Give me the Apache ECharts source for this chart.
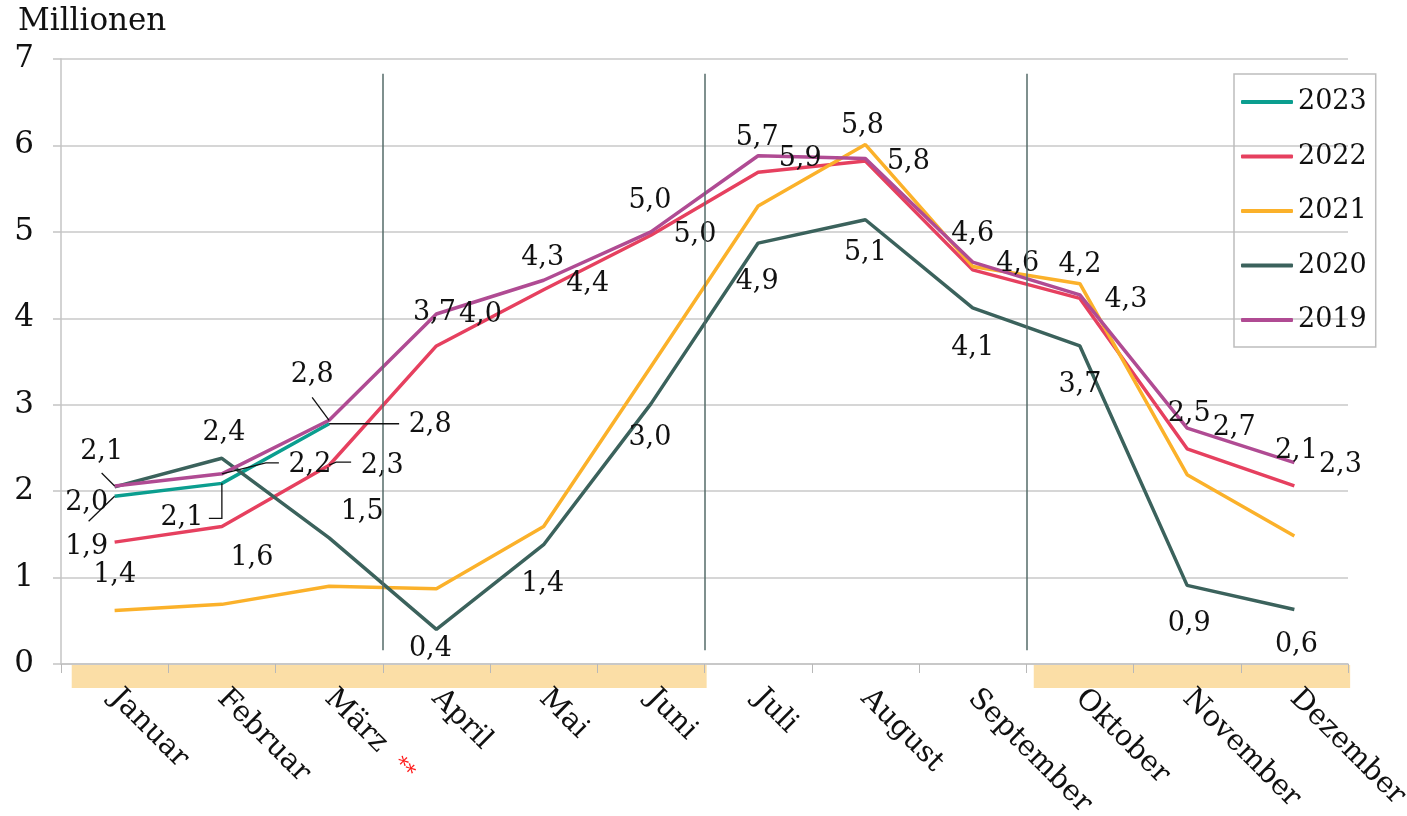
<!DOCTYPE html>
<html>
<head>
<meta charset="utf-8">
<script src="https://cdn.jsdelivr.net/npm/echarts@6.0.0/dist/echarts.min.js"></script>
<style>
  html, body { margin: 0; padding: 0; background: #fff; }
  #chart { width: 1407px; height: 816px; }
</style>
</head>
<body>
<div id="chart"></div>
<script>
// Monate
const months = ["Januar", "Februar", "März", "April", "Mai", "Juni", "Juli",
  "August", "September", "Oktober", "November", "Dezember"];

// Werte in Millionen
const v2023 = [1.94, 2.09, 2.78, null, null, null, null, null, null, null, null, null];
const v2022 = [1.41, 1.59, 2.30, 3.68, 4.33, 4.96, 5.69, 5.82, 4.56, 4.23, 2.49, 2.06];
const v2021 = [0.62, 0.69, 0.90, 0.87, 1.59, 3.44, 5.30, 6.01, 4.60, 4.40, 2.19, 1.48];
const v2020 = [2.05, 2.38, 1.46, 0.40, 1.38, 3.01, 4.87, 5.14, 4.12, 3.68, 0.91, 0.63];
const v2019 = [2.06, 2.20, 2.82, 4.05, 4.44, 5.00, 5.88, 5.85, 4.65, 4.27, 2.73, 2.33];

// Datenbeschriftungen (so wie im Original)
const lab2023 = ["2,0", "2,1", "2,8", "", "", "", "", "", "", "", "", ""];
const lab2022 = ["1,4", "1,6", "2,3", "3,7", "4,3", "5,0", "5,7", "", "4,6", "4,2", "2,5", "2,1"];
const lab2021 = ["", "", "", "", "", "", "", "5,8", "", "", "", ""];
const lab2020 = ["1,9", "2,4", "1,5", "0,4", "1,4", "3,0", "4,9", "5,1", "4,1", "3,7", "0,9", "0,6"];
const lab2019 = ["2,1", "2,2", "2,8", "4,0", "4,4", "5,0", "5,9", "5,8", "4,6", "4,3", "2,7", "2,3"];

// Versatz der Beschriftungen in px
const off2023 = [[-28, 7], [-40, 35], [101, 1]];
const off2022 = [[0, 33], [30, 31], [53, 1], [-2, -33], [-1, -32], [-1, -34], [-1, -34], null, [45, -6], [0, -33], [2, -35], [2, -35]];
const off2021 = [null, null, null, null, null, null, null, [-3, -19], null, null, null, null];
const off2020 = [[-28, 60], [2, -25], [33, -26], [-6, 20], [-1, 39], [-1, 34], [-1, 39], [0, 33], [0, 40], [0, 39], [2, 39], [2, 35]];
const off2019 = [[-13, -34], [88, -9], [-17, -45], [44, 1], [44, 4], [44, 3], [42, 3], [43, 4], [0, -28], [46, 5], [47, 0], [46, 2]];

// Hinweislinien: Serie, Monat, Punkte relativ zum Datenpunkt
const leaders = [
  { s: "2019", m: 0, pts: [[0, 0], [-13, -13]] },
  { s: "2023", m: 0, pts: [[0, 0], [-26, 25]] },
  { s: "2019", m: 1, pts: [[0, 0], [44, -11], [57, -11]] },
  { s: "2023", m: 1, pts: [[0, 0], [0, 35], [-13, 35]] },
  { s: "2019", m: 2, pts: [[0, 0], [-17, -23]] },
  { s: "2023", m: 2, pts: [[0, 0], [70, 0]] },
  { s: "2022", m: 2, pts: [[0, 0], [7, -3], [22, -3]] },
];

// Quartalsgrenzen und Saisonbänder (auf Monats-Skala 0..12)
const quarterLines = [3, 6, 9];
const seasonBands = [[0.1, 6.02], [9.07, 12.02]];

const FONT = "'DejaVu Serif', serif";

const colors = {
  "2023": "#0b9e8f",
  "2022": "#e6405f",
  "2021": "#fbb12a",
  "2020": "#3b625c",
  "2019": "#b04b93",
};

const values = { "2023": v2023, "2022": v2022, "2021": v2021, "2020": v2020, "2019": v2019 };
const labels = { "2023": lab2023, "2022": lab2022, "2021": lab2021, "2020": lab2020, "2019": lab2019 };
const offsets = { "2023": off2023, "2022": off2022, "2021": off2021, "2020": off2020, "2019": off2019 };
const years = ["2023", "2022", "2021", "2020", "2019"];

const makeSeries = (year) => ({
  name: year,
  type: "line",
  xAxisIndex: 0,
  yAxisIndex: 0,
  color: colors[year],
  data: values[year].map((v, i) => ({
    value: v,
    label: labels[year][i]
      ? { show: true, formatter: labels[year][i], offset: offsets[year][i] }
      : { show: false },
  })),
  symbol: "circle",
  symbolSize: 0,
  showSymbol: true,
  lineStyle: { width: 3.5, color: colors[year] },
  itemStyle: { color: colors[year] },
  label: {
    position: "inside",
    fontFamily: FONT,
    fontSize: 27,
    color: "#111",
  },
  emphasis: { disabled: true },
});

const series = years.map(makeSeries);

// Hilfsserie für die Quartalslinien
series.push({
  name: "_quarters",
  type: "line",
  xAxisIndex: 1,
  yAxisIndex: 0,
  data: [],
  silent: true,
  markLine: {
    silent: true,
    symbol: "none",
    label: { show: false },
    lineStyle: { color: "#546b69", width: 1.5, type: "solid" },
    data: quarterLines.map((q) => [{ coord: [q, 0.16] }, { coord: [q, 6.83] }]),
  },
});

const chart = echarts.init(document.getElementById("chart"));

chart.setOption({
  animation: false,
  backgroundColor: "#fff",
  grid: {
    left: 61,
    right: 59,
    top: 59,
    bottom: 152,
    containLabel: false,
    outerBoundsMode: "none",
  },
  legend: {
    data: years,
    orient: "vertical",
    left: 1234,
    top: 74,
    icon: "roundRect",
    itemWidth: 52,
    itemHeight: 4,
    itemGap: 24.5,
    padding: [13, 9, 12, 7],
    borderColor: "#bdbdbd",
    borderWidth: 1.5,
    textStyle: { fontFamily: FONT, fontSize: 27, color: "#111", lineHeight: 30 },
  },
  xAxis: [
    {
      type: "category",
      data: months,
      boundaryGap: true,
      axisLine: { show: true, lineStyle: { color: "#c4c4c4", width: 1.5 } },
      axisTick: { show: true, length: 9, lineStyle: { color: "#b8b8b8", width: 1 } },
      axisLabel: {
        interval: 0,
        rotate: -45,
        margin: 30,
        fontFamily: FONT,
        fontSize: 29,
        color: "#111",
        formatter: (v) => (v === "März" ? v + "  {r|**}" : v),
        rich: { r: { color: "#ff1a1a", fontSize: 21, fontFamily: FONT } },
      },
      splitLine: { show: false },
    },
    { type: "value", min: 0, max: 12, show: false },
  ],
  yAxis: {
    type: "value",
    min: 0,
    max: 7,
    interval: 1,
    axisLine: { show: true, lineStyle: { color: "#c4c4c4", width: 1.5 } },
    axisTick: { show: true, length: 8, lineStyle: { color: "#c4c4c4", width: 1.5 } },
    axisLabel: { margin: 27, fontFamily: FONT, fontSize: 31, color: "#111" },
    splitLine: { show: true, lineStyle: { color: "#c8c8c8", width: 1.5 } },
  },
  series: series,
});

// Bänder unter der Achse und Hinweislinien
const y0 = chart.convertToPixel({ yAxisIndex: 0 }, 0);
const graphics = [
  {
    type: "text",
    left: 18,
    top: 6,
    style: { text: "Millionen", font: "31px 'DejaVu Serif'", fill: "#111" },
  },
];

seasonBands.forEach(([a, b]) => {
  const x1 = chart.convertToPixel({ xAxisIndex: 1 }, a);
  const x2 = chart.convertToPixel({ xAxisIndex: 1 }, b);
  graphics.push({
    type: "rect",
    z: -1,
    shape: { x: x1, y: y0 + 1, width: x2 - x1, height: 23 },
    style: { fill: "#fbdea6" },
  });
});

leaders.forEach((ld) => {
  const p = chart.convertToPixel({ seriesName: ld.s }, [ld.m, values[ld.s][ld.m]]);
  graphics.push({
    type: "polyline",
    z: 10,
    shape: { points: ld.pts.map(([dx, dy]) => [p[0] + dx, p[1] + dy]) },
    style: { stroke: "#111", lineWidth: 1.3, fill: null },
  });
});

chart.setOption({ graphic: graphics });
</script>
</body>
</html>
